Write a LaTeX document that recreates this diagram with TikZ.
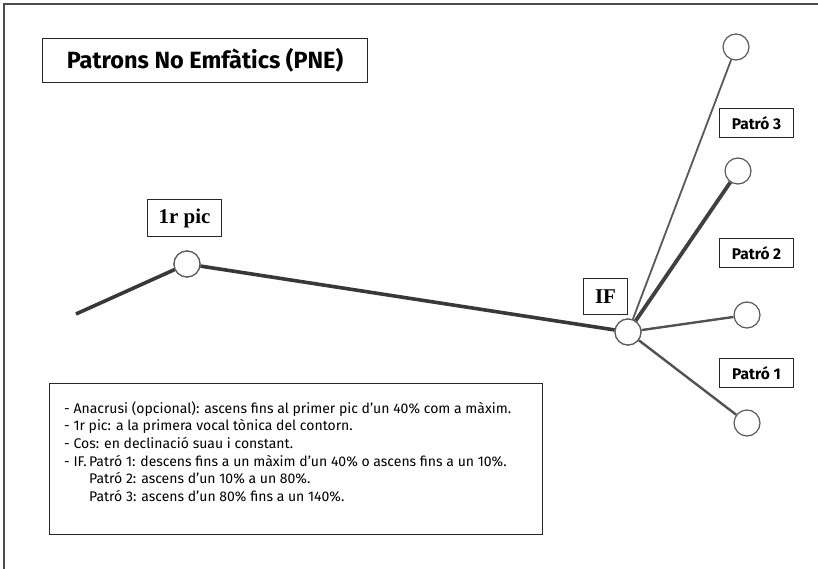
\documentclass[tikz,border=0pt]{standalone}
\usepackage{fontspec}
\setmainfont{Fira Sans}
\newfontfamily\serifb{Liberation Serif}
\begin{document}
\begin{tikzpicture}[x=1pt,y=-1pt,
  frame/.style={draw=black!70,line width=1.3pt},
  lbox/.style={draw=black!85,line width=1pt,fill=white,inner sep=0pt},
  pt/.style={circle,draw=black!65,line width=1.2pt,fill=white,minimum size=26pt,inner sep=0pt},
  contour/.style={draw=black!78,line width=3.6pt},
  thin/.style={draw=black!65,line width=1.8pt},
  mid/.style={draw=black!68,line width=2.4pt},
  thick/.style={draw=black!75,line width=3.8pt},
  pat/.style={lbox,minimum width=74pt,minimum height=29pt,font=\bfseries\fontsize{15.5}{17}\selectfont},
  serlab/.style={lbox,font=\serifb\bfseries\fontsize{21}{23}\selectfont}
]
\useasboundingbox (0,0) rectangle (818,569);
\draw[frame] (4,569) -- (4,4) -- (818,4);

% title
\node[lbox,minimum width=325pt,minimum height=44pt,anchor=north west,
  font=\bfseries\fontsize{23.5}{26}\selectfont] (title) at (42,38) {Patrons No Emfàtics (PNE)};

% points
\coordinate (start) at (76,314);
\node[pt] (p1) at (187,264) {};
\node[pt] (if) at (628,332) {};
\node[pt] (c1a) at (747,423) {};
\node[pt] (c1b) at (747,315) {};
\node[pt] (c2) at (738,171) {};
\node[pt] (c3) at (736,47) {};

\draw[contour] (start) -- (p1);
\draw[contour] (p1) -- (if);
\draw[thin] (if) -- (c3);
\draw[thick] (if) -- (c2);
\draw[mid] (if) -- (c1b);
\draw[mid] (if) -- (c1a);
\node[pt] at (if) {};
\node[pt] at (p1) {};

% labels
\node[serlab,minimum width=74pt,minimum height=37pt,anchor=north west] (lpic) at (147,199) {1r pic};
\node[serlab,minimum width=44pt,minimum height=36pt,anchor=north west] (lif) at (583,278) {IF};
\node[pat,anchor=north west] (lp3) at (719,108) {Patró 3};
\node[pat,anchor=north west] (lp2) at (719,238) {Patró 2};
\node[pat,anchor=north west] (lp1) at (719,358) {Patró 1};

% notes
\node[lbox,minimum width=493pt,minimum height=151pt,anchor=north west] (notes) at (49,383) {};
\node[anchor=north west,align=left,inner sep=0pt,font=\fontsize{14}{17.7}\selectfont] (notetext) at (64,401)
{- Anacrusi (opcional): ascens fins al primer pic d’un 40\% com a màxim.\\
- 1r pic: a la primera vocal tònica del contorn.\\
- Cos: en declinació suau i constant.\\
- IF.\,Patró 1: descens fins a un màxim d’un 40\% o ascens fins a un 10\%.\\
\phantom{- IF.\,}Patró 2: ascens d’un 10\% a un 80\%.\\
\phantom{- IF.\,}Patró 3: ascens d’un 80\% fins a un 140\%.};
\end{tikzpicture}
\end{document}
